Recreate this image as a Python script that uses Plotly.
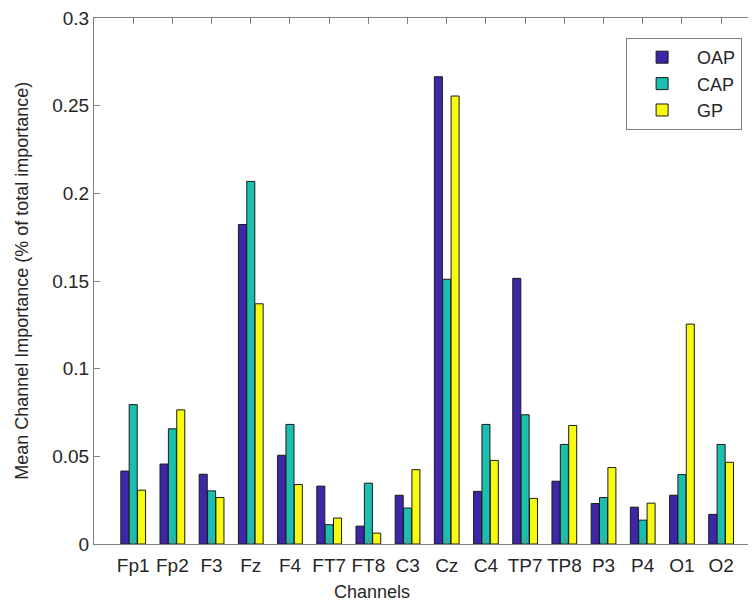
import plotly.graph_objects as go

channels = ["Fp1", "Fp2", "F3", "Fz", "F4", "FT7", "FT8", "C3",
            "Cz", "C4", "TP7", "TP8", "P3", "P4", "O1", "O2"]
oap = [0.0416, 0.0456, 0.0398, 0.1822, 0.0506, 0.0330, 0.0102, 0.0278,
       0.2665, 0.0300, 0.1515, 0.0358, 0.0231, 0.0210, 0.0278, 0.0169]
cap = [0.0795, 0.0657, 0.0303, 0.2068, 0.0682, 0.0110, 0.0347, 0.0205,
       0.1510, 0.0682, 0.0737, 0.0568, 0.0265, 0.0136, 0.0396, 0.0568]
gp = [0.0307, 0.0765, 0.0265, 0.1370, 0.0339, 0.0148, 0.0062, 0.0424,
      0.2555, 0.0477, 0.0260, 0.0676, 0.0436, 0.0233, 0.1254, 0.0466]
series = [("OAP", oap, "#3e26a8"), ("CAP", cap, "#1bbfb0"), ("GP", gp, "#f9fb0e")]
yticks = [0, 0.05, 0.1, 0.15, 0.2, 0.25, 0.3]
ytext = ["0", "0.05", "0.1", "0.15", "0.2", "0.25", "0.3"]

font = "Liberation Sans, Arial, Helvetica, sans-serif"
axcol = "#808080"
xrange = [-1, 15.89]

fig = go.Figure()
for name, vals, col in series:
    fig.add_trace(go.Bar(x=channels, y=vals, name=name,
                         marker=dict(color=col, line=dict(color="#1a1a1a", width=1))))
# invisible trace hosting the top and right tick marks (box axes)
fig.add_trace(go.Scatter(x=channels, y=[0] * len(channels), xaxis="x2", yaxis="y2",
                         mode="markers", marker=dict(opacity=0),
                         showlegend=False, hoverinfo="skip"))

# the page body has an 8px margin, so the figure is 8px smaller than the window
fig.update_layout(
    width=748, height=597,
    margin=dict(l=86, r=0, t=8, b=61),
    paper_bgcolor="white", plot_bgcolor="white",
    barmode="group", bargap=0.36, bargroupgap=0.04,
    font=dict(family=font, size=18, color="#262626"),
    showlegend=True,
    legend=dict(x=0.979, y=0.962, xanchor="right", yanchor="top",
                bgcolor="white", bordercolor=axcol, borderwidth=1,
                font=dict(size=18, color="#262626"),
                tracegroupgap=0, itemwidth=60),
    xaxis=dict(range=xrange, type="category", categoryarray=channels,
               showline=True, linecolor=axcol, linewidth=1,
               ticks="inside", ticklen=6, tickcolor=axcol, ticklabelstandoff=4,
               tickfont=dict(size=19), showgrid=False, zeroline=False),
    yaxis=dict(range=[0, 0.3], tickvals=yticks, ticktext=ytext,
               showline=True, linecolor=axcol, linewidth=1,
               ticks="inside", ticklen=6, tickcolor=axcol,
               ticklabeloverflow="allow",
               tickfont=dict(size=19), showgrid=False, zeroline=False),
    xaxis2=dict(range=xrange, type="category", categoryarray=channels,
                overlaying="x", side="top", anchor="y2",
                showticklabels=False, showline=True, linecolor=axcol, linewidth=1,
                ticks="inside", ticklen=6, tickcolor=axcol,
                showgrid=False, zeroline=False),
    yaxis2=dict(range=[0, 0.3], tickvals=yticks, overlaying="y", side="right",
                anchor="x2", showticklabels=False, showline=False, ticks="inside",
                ticklen=3, tickcolor=axcol, showgrid=False, zeroline=False),
    annotations=[
        dict(text="Channels", xref="paper", yref="paper", x=0.42, y=-0.092,
             xanchor="center", yanchor="middle", showarrow=False,
             font=dict(size=18, color="#262626")),
        dict(text="Mean Channel Importance (% of total importance)",
             xref="paper", yref="paper", x=-0.109, y=0.5, textangle=-90,
             xanchor="center", yanchor="middle", showarrow=False,
             font=dict(size=18, color="#262626")),
    ],
)

fig.write_html("out.html")
